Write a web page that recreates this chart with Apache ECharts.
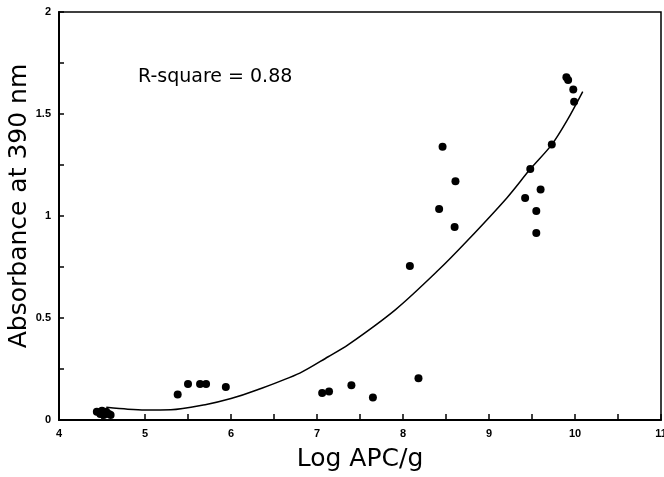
<!DOCTYPE html>
<html><head><meta charset="utf-8">
<script src="https://cdn.jsdelivr.net/npm/echarts@6/dist/echarts.min.js"></script>
<style>html,body{margin:0;padding:0;background:#fff}#c{width:664px;height:477px}</style>
</head><body><div id="c"></div>
<script>
const xTitle = 'Log APC/g';
const yTitle = 'Absorbance at 390 nm';
const annotation = 'R-square = 0.88';
const pointX = [4.44,4.48,4.52,4.55,4.58,4.60,4.50,5.38,5.50,5.64,5.71,5.94,7.06,7.14,7.40,7.65,8.08,8.18,8.46,8.42,8.61,8.60,9.42,9.48,9.55,9.55,9.60,9.73,9.90,9.92,9.98,9.99];
const pointY = [0.040,0.030,0.025,0.040,0.030,0.025,0.045,0.125,0.176,0.176,0.176,0.162,0.132,0.140,0.170,0.110,0.755,0.205,1.340,1.034,1.170,0.946,1.088,1.230,1.024,0.917,1.130,1.350,1.680,1.667,1.620,1.560];
const fitX = [4.55,4.8,5.0,5.3,5.7,6.0,6.3,6.8,7.13,7.36,7.91,8.4,8.75,9.21,9.48,9.73,9.91,10.09];
const fitY = [0.062,0.053,0.049,0.050,0.075,0.105,0.147,0.230,0.310,0.368,0.540,0.730,0.880,1.090,1.230,1.350,1.470,1.610];

const chart = echarts.init(document.getElementById('c'), null, {renderer:'canvas'});
const font = 'DejaVu Sans';
chart.setOption({
  animation:false,
  grid:{left:59,right:3,top:12,bottom:57,outerBoundsMode:'none',containLabel:false,
    show:true,borderColor:'#000',borderWidth:1.5,backgroundColor:'transparent'},
  xAxis:{type:'value',min:4,max:11,interval:0.5,
    name:xTitle,nameLocation:'middle',nameGap:27,nameMoveOverlap:false,
    nameTextStyle:{fontFamily:font,fontSize:25,color:'#000'},
    axisLine:{lineStyle:{color:'#000',width:2}},
    axisTick:{inside:true,length:6,lineStyle:{color:'#000',width:1.5}},
    axisLabel:{fontFamily:'Liberation Sans',fontWeight:'bold',fontSize:11,color:'#000',margin:8,
      formatter:v=>Number.isInteger(v)?String(v):''},
    splitLine:{show:false}},
  yAxis:{type:'value',min:0,max:2,interval:0.25,
    name:yTitle,nameLocation:'middle',nameGap:27,nameMoveOverlap:false,
    nameTextStyle:{fontFamily:font,fontSize:25,color:'#000',padding:[0,0,0,20]},
    axisLine:{lineStyle:{color:'#000',width:2}},
    axisTick:{inside:true,length:5,lineStyle:{color:'#000',width:1.5}},
    axisLabel:{fontFamily:'Liberation Sans',fontWeight:'bold',fontSize:11,color:'#000',margin:8,
      formatter:v=>(Math.abs(v*2-Math.round(v*2))<1e-9)?String(v):''},
    splitLine:{show:false}},
  graphic:[{type:'text',left:138,top:68,style:{text:annotation,fontFamily:font,fontSize:19,fill:'#000'}}],
  series:[
    {type:'line',data:fitX.map((x,i)=>[x,fitY[i]]),smooth:0.3,showSymbol:false,
     lineStyle:{color:'#000',width:1.5},z:2},
    {type:'scatter',data:pointX.map((x,i)=>[x,pointY[i]]),symbolSize:8,
     itemStyle:{color:'#000',opacity:1},z:3}
  ]
});
</script></body></html>
